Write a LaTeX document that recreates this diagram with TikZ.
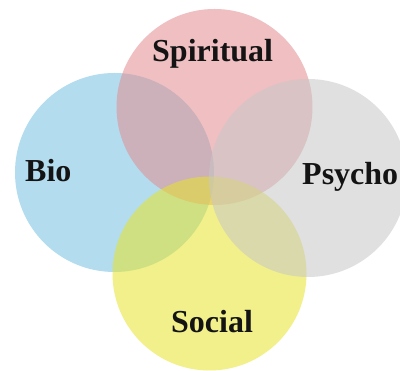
\documentclass[tikz,border=0pt]{standalone}
\usepackage{fontspec}
\setmainfont{Liberation Serif}
\definecolor{bioC}{RGB}{117,193,226}
\definecolor{spiC}{RGB}{226,140,144}
\definecolor{psyC}{RGB}{199,199,199}
\definecolor{socC}{RGB}{231,228,42}
\tikzset{
  ring/.style={circle, inner sep=0pt, fill opacity=0.55, draw=none},
  lbl/.style={anchor=base west, inner sep=0pt, font=\fontsize{32}{38}\selectfont\bfseries, text=black!92}
}
\begin{document}
\begin{tikzpicture}[x=1pt,y=1pt]
\useasboundingbox (0,0) rectangle (400,371);
\fill[white] (0,0) rectangle (400,371);
\node[ring, fill=bioC, minimum size=199pt] (bio) at (114.5,198.5) {};
\node[ring, fill=spiC, minimum size=196pt] (spi) at (214.5,264) {};
\node[ring, fill=socC, minimum size=194pt] (soc) at (209.5,97.5) {};
\node[ring, fill=psyC, minimum size=198pt] (psy) at (308,193) {};
\node[lbl] (tspi) at (152,309) {Spiritual};
\node[lbl] (tbio) at (25,189) {Bio};
\node[lbl] (tpsy) at (302,186) {Psycho};
\node[lbl] (tsoc) at (171,38) {Social};
\end{tikzpicture}
\end{document}
